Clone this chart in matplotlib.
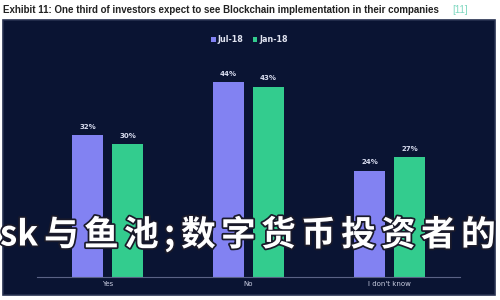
import numpy as np
import matplotlib.pyplot as plt
import matplotlib.patheffects as pe
from matplotlib.patches import Rectangle

categories = ['Yes', 'No', "I don't know"]
jul18 = [32, 44, 24]
jan18 = [30, 43, 27]
series_names = ['Jul-18', 'Jan-18']
watermark_lead = 'sk'
watermark_chars = list('与鱼池;数字货币投资者的')

W, H = 500, 300
fig = plt.figure(figsize=(5, 3), dpi=100, facecolor='white')

# dark panel behind the chart
fig.patches.append(Rectangle((3 / W, 5 / H), 492 / W, 275 / H, transform=fig.transFigure,
                             facecolor='#0a1433', edgecolor='#26304f', lw=1.2, zorder=-5))

fig.text(3 / W, 1 - 10 / H, 'Exhibit 11: One third of investors expect to see Blockchain implementation in their companies',
         fontsize=7.0, fontweight='bold', color='#222222', family='Liberation Sans', va='center')
fig.text(452 / W, 1 - 10 / H, '[11]', fontsize=7.0, color='#7fd8c0', family='Liberation Sans', va='center')

ax = fig.add_axes([37 / W, 23 / H, 423 / W, (277 - 55.5) / H])
ax.set_facecolor('none')
x = np.arange(len(categories))
bw = 0.22
off = 0.142
b1 = ax.bar(x - off, jul18, bw, color='#8282f2', label=series_names[0])
b2 = ax.bar(x + off, jan18, bw, color='#33cc8e', label=series_names[1])
for bars in (b1, b2):
    for r in bars:
        ax.text(r.get_x() + r.get_width() / 2, r.get_height() + 1.2, f'{int(r.get_height())}%',
                ha='center', va='bottom', fontsize=5, color='#d8dcef', fontweight='bold')

ax.set_xlim(-0.5, 2.5)
ax.set_ylim(0, 50)
ax.set_yticks([])
ax.set_xticks(x)
ax.set_xticklabels(categories, fontsize=5, color='#c8cce0')
ax.tick_params(axis='x', length=0, pad=3)
for s in ['top', 'right', 'left']:
    ax.spines[s].set_visible(False)
ax.spines['bottom'].set_color('#5a6285')
ax.spines['bottom'].set_linewidth(0.8)

leg = fig.legend(handles=[b1, b2], labels=series_names, loc='center', bbox_to_anchor=(250 / W, 1 - 40 / H),
                 ncol=2, frameon=False, fontsize=5.8, handlelength=0.5, handleheight=0.5,
                 handletextpad=0.3, columnspacing=1.2, labelcolor='#e0e3f0', prop={'weight': 'bold', 'size': 5.8})

# watermark over the chart
wm_style = dict(fontsize=25, fontweight='bold', color='white', va='center', ha='left',
                family=['Noto Sans CJK SC', 'DejaVu Sans'],
                path_effects=[pe.withStroke(linewidth=2.5, foreground='#1a1a2a')])
fig.text(0 / W, 1 - 235 / H, watermark_lead, **wm_style)
cursor = 44
for ch in watermark_chars:
    fig.text(cursor / W, 1 - 235 / H, ch, **wm_style)
    cursor += 17 if ch == ';' else 40

fig.savefig('out.png', dpi=100, facecolor='white')
